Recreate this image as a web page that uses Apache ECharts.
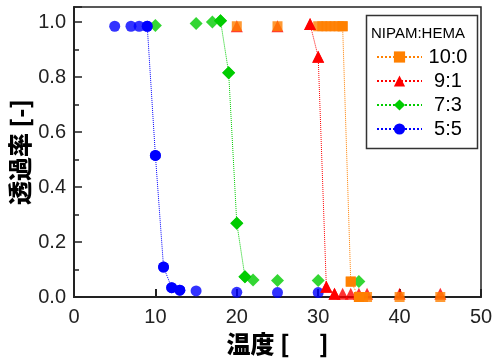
<!DOCTYPE html>
<html><head><meta charset="utf-8">
<script src="https://cdn.jsdelivr.net/npm/echarts@6/dist/echarts.min.js"></script>
<style>html,body{margin:0;padding:0;background:#fff}#c{width:494px;height:358px}</style>
</head><body><div id="c"></div><script>
const seriesNames = ['10:0', '9:1', '7:3', '5:5'];
const orangeX = [20, 25, 30, 30.5, 31, 31.5, 32, 32.5, 33, 34, 35, 35.5, 36, 40, 45];
const orangeY = [0.985, 0.985, 0.985, 0.985, 0.985, 0.985, 0.985, 0.985, 0.985, 0.056, 0.0, 0.0, 0.0, 0.0, 0.0];
const orangeLine = [8, 10];
const redX = [20, 25, 29, 30, 31, 32, 33, 34, 35, 36, 40, 45];
const redY = [0.985, 0.985, 0.993, 0.874, 0.037, 0.012, 0.012, 0.012, 0.012, 0.012, 0.012, 0.012];
const redLine = [2, 5];
const greenX = [10, 15, 17, 18, 19, 20, 21, 22, 25, 30, 35];
const greenY = [0.988, 0.995, 1.0, 1.005, 0.816, 0.268, 0.074, 0.062, 0.06, 0.06, 0.056];
const greenLine = [3, 6];
const blueX = [5, 7, 8, 9, 10, 11, 12, 13, 15, 20, 25, 30];
const blueY = [0.985, 0.985, 0.985, 0.985, 0.515, 0.109, 0.034, 0.025, 0.022, 0.017, 0.016, 0.016];
const blueLine = [3, 7];
const xTicks = [0, 10, 20, 30, 40, 50];
const yTicks = [0, 0.2, 0.4, 0.6, 0.8, 1.0];

const FONT = 'Liberation Sans, Arial, sans-serif';
const CJK = 'Noto Sans CJK JP';
const groups = [
  {name: seriesNames[3], xs: blueX, ys: blueY, rng: blueLine, color: '#0000ff', symbol: 'circle', size: 11},
  {name: seriesNames[2], xs: greenX, ys: greenY, rng: greenLine, color: '#00cc00', symbol: 'diamond', size: 13},
  {name: seriesNames[1], xs: redX, ys: redY, rng: redLine, color: '#ff0000', symbol: 'triangle', size: 12},
  {name: seriesNames[0], xs: orangeX, ys: orangeY, rng: orangeLine, color: '#ff8000', symbol: 'rect', size: 10}
];
const series = [];
groups.forEach(g => {
  const pts = g.xs.map((x, i) => [x, g.ys[i]]);
  series.push({
    name: g.name, type: 'line', data: pts.slice(g.rng[0], g.rng[1] + 1),
    symbol: g.symbol, symbolSize: g.size, showSymbol: true,
    itemStyle: {color: g.color}, lineStyle: {color: g.color, width: 1, type: 'dotted'},
    clip: true, animation: false
  });
  series.push({
    name: g.name, type: 'scatter', data: pts, symbol: g.symbol, symbolSize: g.size,
    itemStyle: {color: g.color}, clip: true, animation: false
  });
});

const chart = echarts.init(document.getElementById('c'));
chart.setOption({
  animation: false,
  grid: {left: 74, right: 13, top: 7, bottom: 61, show: true, borderColor: '#222', borderWidth: 1.5,
    containLabel: false, outerBoundsMode: 'none'},
  xAxis: {
    type: 'value', min: xTicks[0], max: xTicks[xTicks.length - 1], interval: 10,
    axisLine: {lineStyle: {color: '#222', width: 2}},
    axisTick: {inside: true, length: 8, lineStyle: {color: '#222', width: 2}},
    splitLine: {show: false},
    axisLabel: {color: '#222', fontSize: 20, fontFamily: FONT, margin: 10},
    name: '温度 [\u3000 ]', nameLocation: 'middle', nameGap: 35,
    nameTextStyle: {fontSize: 24, fontWeight: 900, color: '#000', fontFamily: CJK}
  },
  yAxis: {
    type: 'value', min: yTicks[0], max: 1.055, interval: 0.2,
    axisLine: {lineStyle: {color: '#222', width: 2}},
    axisTick: {inside: true, length: 8, lineStyle: {color: '#222', width: 1.5}},
    minorTick: {show: true, splitNumber: 2, length: 5, lineStyle: {color: '#222', width: 1.5}},
    splitLine: {show: false},
    axisLabel: {color: '#222', fontSize: 20, fontFamily: FONT, margin: 8, showMaxLabel: false,
      formatter: v => (yTicks.some(t => Math.abs(t - v) < 1e-6) ? v.toFixed(1) : '')},
    name: '透過率 [-]', nameLocation: 'middle', nameGap: 42, nameMoveOverlap: false,
    nameTextStyle: {fontSize: 24, fontWeight: 900, color: '#000', fontFamily: CJK}
  },
  legend: {
    data: seriesNames, orient: 'vertical', left: 371, top: 42,
    itemWidth: 45, itemHeight: 14, itemGap: 4,
    formatter: n => '{a|' + n + '}',
    textStyle: {fontFamily: FONT, fontSize: 20, color: '#000', lineHeight: 14,
      rich: {a: {fontFamily: FONT, fontSize: 20, color: '#000', width: 42, align: 'center', lineHeight: 14}}}
  },
  graphic: [
    {type: 'rect', left: 364, top: 13, shape: {width: 111, height: 133},
      style: {fill: 'none', stroke: '#333', lineWidth: 1.5}, z: 100},
    {type: 'text', left: 371, top: 26, style: {text: 'NIPAM:HEMA', font: '15px Liberation Sans', fill: '#000'}, z: 100}
  ],
  series: series
});
</script></body></html>
